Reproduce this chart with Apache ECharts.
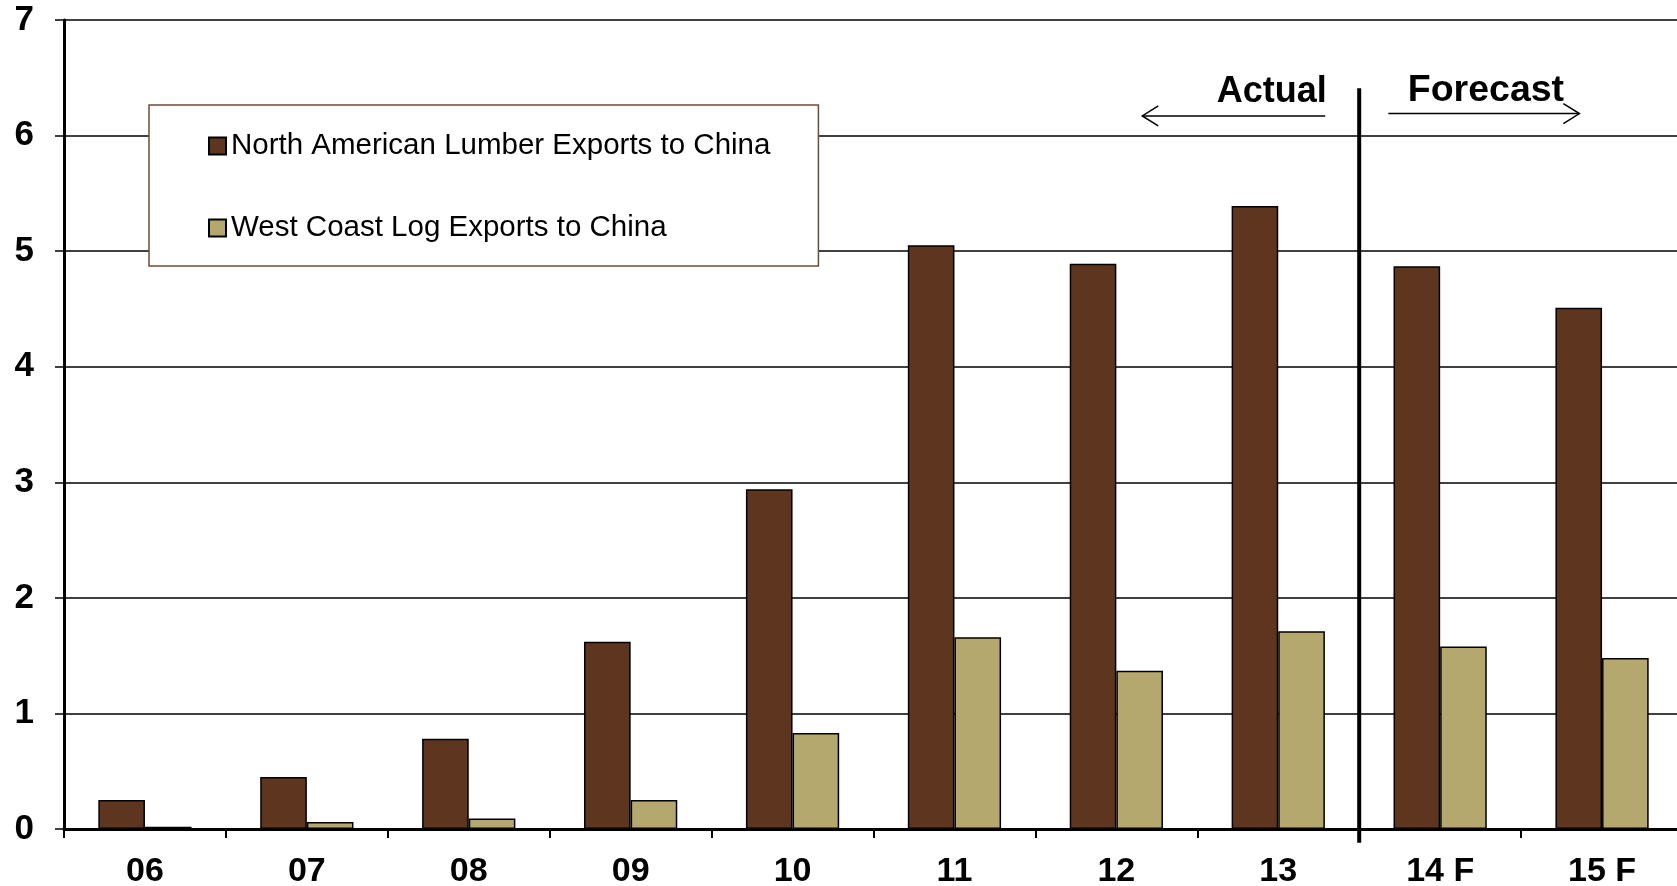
<!DOCTYPE html>
<html><head><meta charset="utf-8">
<script src="https://cdn.jsdelivr.net/npm/echarts@6/dist/echarts.min.js"></script>
<style>html,body{margin:0;padding:0;background:#fff}#c{width:1677px;height:886px}</style>
</head><body><div id="c"></div>
<script>
const categories = ['06','07','08','09','10','11','12','13','14 F','15 F'];
const lumber = [0.25,0.45,0.78,1.62,2.94,5.05,4.89,5.39,4.87,4.51];
const logs = [0.02,0.06,0.09,0.25,0.83,1.66,1.37,1.71,1.58,1.48];
const seriesNames = ['North American Lumber Exports to China','West Coast Log Exports to China'];
const yMin = 0, yMax = 7, yStep = 1;
const dividerIndex = 8; // boundary between actual and forecast categories

const chart = echarts.init(document.getElementById('c'));
const FONT = 'Liberation Sans, Arial, sans-serif';
chart.setOption({
  animation: false,
  backgroundColor: '#fff',
  grid: {left: 64, right: -6, top: 20, bottom: 57, containLabel: false, outerBoundsMode: 'none'},
  legend: {
    data: seriesNames,
    orient: 'vertical',
    left: 149, top: 105,
    icon: 'rect', itemWidth: 17, itemHeight: 17,
    itemGap: 52,
    padding: [26, 48, 23, 59],
    backgroundColor: '#fff',
    borderColor: '#6F4C37', borderWidth: 1.5, borderRadius: 0,
    textStyle: {fontFamily: FONT, fontSize: 29.5, color: '#000'},
    selectedMode: false
  },
  xAxis: [{
    type: 'category', data: categories, boundaryGap: true,
    axisLine: {show: true, lineStyle: {color: '#000', width: 3}},
    axisTick: {show: true, alignWithLabel: false, length: 9, lineStyle: {color: '#000', width: 2}},
    axisLabel: {fontFamily: FONT, fontWeight: 'bold', fontSize: 34, color: '#000', margin: 26, interval: 0},
    splitLine: {show: false}
  }, {
    type: 'value', min: 0, max: categories.length, show: false
  }],
  yAxis: {
    type: 'value', min: yMin, max: yMax, interval: yStep,
    axisLine: {show: true, lineStyle: {color: '#000', width: 3}},
    axisTick: {show: true, length: 9, lineStyle: {color: '#000', width: 1.5}},
    axisLabel: {fontFamily: FONT, fontWeight: 'bold', fontSize: 35, color: '#000', margin: 30},
    splitLine: {show: true, lineStyle: {color: '#000', width: 1.5}}
  },
  series: [{
    name: seriesNames[0], type: 'bar', data: lumber,
    barWidth: '28.8%', barGap: '0%',
    itemStyle: {color: '#5E351F', borderColor: '#000', borderWidth: 1.5}
  }, {
    name: seriesNames[1], type: 'bar', data: logs,
    barWidth: '28.8%', barGap: '0%',
    itemStyle: {color: '#B5A86E', borderColor: '#000', borderWidth: 1.5}
  }, {
    name: 'divider', type: 'line', xAxisIndex: 1, clip: false, silent: true,
    symbol: 'none', z: 5,
    data: [[dividerIndex, 6.41], [dividerIndex, -0.12]],
    lineStyle: {color: '#000', width: 4}
  }]
});

function px(x, y) { return chart.convertToPixel({xAxisIndex: 1, yAxisIndex: 0}, [x, y]); }
const aL = px(6.66, 6.17), aR = px(7.79, 6.17);
const fL = px(8.18, 6.19), fR = px(9.36, 6.19);
const aT = px(7.80, 6.38), fT = px(8.30, 6.39);
chart.setOption({
  graphic: [
    {type: 'line', shape: {x1: aL[0], y1: aL[1], x2: aR[0], y2: aR[1]}, style: {stroke: '#000', lineWidth: 1.5}},
    {type: 'polyline', shape: {points: [[aL[0]+16, aL[1]-10], aL, [aL[0]+16, aL[1]+10]]}, style: {stroke: '#000', lineWidth: 1.5, fill: null}},
    {type: 'line', shape: {x1: fL[0], y1: fL[1], x2: fR[0], y2: fR[1]}, style: {stroke: '#000', lineWidth: 1.5}},
    {type: 'polyline', shape: {points: [[fR[0]-16, fR[1]-10], fR, [fR[0]-16, fR[1]+10]]}, style: {stroke: '#000', lineWidth: 1.5, fill: null}},
    {type: 'text', x: aT[0], y: aT[1], style: {text: 'Actual', align: 'right', verticalAlign: 'middle', font: 'bold 36px ' + FONT, fill: '#000'}},
    {type: 'text', x: fT[0], y: fT[1], style: {text: 'Forecast', align: 'left', verticalAlign: 'middle', font: 'bold 37.5px ' + FONT, fill: '#000'}}
  ]
});
</script></body></html>
